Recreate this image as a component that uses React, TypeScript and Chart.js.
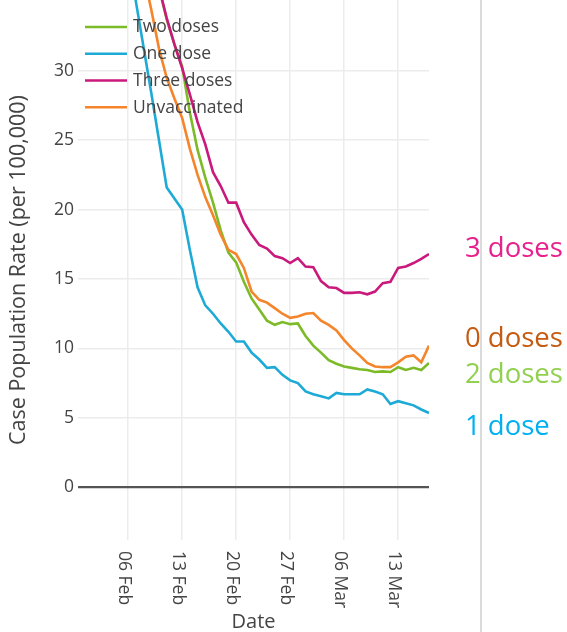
import React, { useEffect, useRef } from "react";
import { Chart, registerables } from "chart.js";

Chart.register(...registerables);

// Days counted from 06 Feb
const dayOffsets = [
  0, 1, 2, 3, 4, 5, 6, 7, 8, 9, 10, 11, 12, 13, 14, 15, 16, 17, 18, 19,
  20, 21, 22, 23, 24, 25, 26, 27, 28, 29, 30, 31, 32, 33, 34, 35, 36, 37, 38, 39,
];
const tickDays = [0, 7, 14, 21, 28, 35];
const tickLabels = ["06 Feb", "13 Feb", "20 Feb", "27 Feb", "06 Mar", "13 Mar"];
const yTickValues = [0, 5, 10, 15, 20, 25, 30];

const seriesNames = ["Two doses", "One dose", "Three doses", "Unvaccinated"];
const seriesColors = ["#7cbb27", "#1eaad6", "#c9197c", "#f5852a"];

const twoDoses = [
  null, null, null, null, 36.0, 33.7, 31.9, 30.3, 27.0, 24.3,
  22.3, 20.5, 18.5, 16.9, 16.2, 14.8, 13.6, 12.8, 12.0, 11.7,
  11.9, 11.75, 11.8, 10.9, 10.2, 9.7, 9.15, 8.9, 8.7, 8.6,
  8.5, 8.45, 8.3, 8.35, 8.3, 8.65, 8.45, 8.6, 8.45, 8.95,
];
const oneDose = [
  38.5, 35.0, 31.7, 28.4, 25.0, 21.6, 20.8, 20.0, 17.1, 14.4,
  13.1, 12.5, 11.8, 11.2, 10.5, 10.5, 9.7, 9.2, 8.6, 8.65,
  8.1, 7.7, 7.5, 6.9, 6.7, 6.55, 6.4, 6.8, 6.7, 6.7,
  6.7, 7.05, 6.9, 6.7, 6.0, 6.2, 6.05, 5.9, 5.6, 5.35,
];
const threeDoses = [
  null, null, null, null, 36.0, 33.8, 31.9, 30.2, 28.3, 26.3,
  24.7, 22.7, 21.7, 20.5, 20.5, 19.1, 18.2, 17.45, 17.2, 16.65,
  16.5, 16.15, 16.5, 15.9, 15.85, 14.85, 14.4, 14.35, 14.0, 14.0,
  14.05, 13.9, 14.1, 14.7, 14.8, 15.8, 15.9, 16.15, 16.45, 16.8,
];
const unvaccinated = [
  null, null, 37.0, 34.4, 31.6, 29.5, 28.0, 26.6, 24.4, 22.5,
  20.9, 19.6, 18.2, 17.1, 16.8, 15.8, 14.1, 13.5, 13.3, 12.9,
  12.5, 12.2, 12.3, 12.5, 12.55, 12.0, 11.7, 11.3, 10.6, 10.0,
  9.5, 8.95, 8.7, 8.65, 8.65, 9.0, 9.4, 9.5, 9.0, 10.2,
];
const seriesValues = [twoDoses, oneDose, threeDoses, unvaccinated];

const sideLabels = ["3 doses", "0 doses", "2 doses", "1 dose"];
const sideColors = ["#e8208e", "#c55a11", "#92d050", "#00b0f0"];

const FONT = '"Open Sans", "DejaVu Sans", sans-serif';
const TEXT = "#444";

const overlayPlugin = {
  id: "overlay",
  afterDraw(chart: any) {
    const ctx = chart.ctx as CanvasRenderingContext2D;
    const xs = chart.scales.x;
    ctx.save();

    // rotated x tick labels (reading top to bottom)
    ctx.fillStyle = TEXT;
    ctx.font = `17.5px ${FONT}`;
    ctx.textAlign = "left";
    ctx.textBaseline = "middle";
    tickDays.forEach((d, i) => {
      const px = xs.getPixelForValue(d);
      ctx.save();
      ctx.translate(px - 4.5, 551);
      ctx.rotate(Math.PI / 2);
      ctx.fillText(tickLabels[i], 0, 0);
      ctx.restore();
    });

    // legend (transparent background, top-left inside plot)
    const rowY = [27, 53.7, 80.5, 107.2];
    seriesNames.forEach((name, i) => {
      ctx.strokeStyle = seriesColors[i];
      ctx.lineWidth = 2.6;
      ctx.beginPath();
      ctx.moveTo(85, rowY[i]);
      ctx.lineTo(127, rowY[i]);
      ctx.stroke();
      ctx.fillStyle = TEXT;
      ctx.font = `17.5px ${FONT}`;
      ctx.textAlign = "left";
      ctx.textBaseline = "middle";
      ctx.fillText(name, 133, rowY[i] + 0.5);
    });

    // right-hand annotations
    const baselines = [257, 347, 383, 435];
    ctx.font = `27.5px ${FONT}`;
    ctx.textBaseline = "alphabetic";
    sideLabels.forEach((t, i) => {
      ctx.fillStyle = sideColors[i];
      ctx.fillText(t, 465, baselines[i]);
    });

    // separator line
    ctx.strokeStyle = "#cfcfcf";
    ctx.lineWidth = 1.5;
    ctx.beginPath();
    ctx.moveTo(481, 0);
    ctx.lineTo(481, 632);
    ctx.stroke();

    ctx.restore();
  },
};

export default function App() {
  const canvasRef = useRef<HTMLCanvasElement | null>(null);

  useEffect(() => {
    const canvas = canvasRef.current;
    if (!canvas) return;
    const datasets = seriesNames.map((name, i) => ({
      label: name,
      data: dayOffsets.map((d, j) => ({ x: d, y: seriesValues[i][j] })),
      borderColor: seriesColors[i],
      backgroundColor: seriesColors[i],
      borderWidth: 2.6,
      pointRadius: 0,
      tension: 0,
      fill: false,
      order: 3 - i,
    }));
    const chart = new Chart(canvas, {
      type: "line",
      data: { datasets },
      plugins: [overlayPlugin],
      options: {
        responsive: false,
        animation: false,
        devicePixelRatio: 1,
        layout: { padding: { left: 0, right: 138, top: 0, bottom: 0 } },
        plugins: { legend: { display: false }, tooltip: { enabled: false } },
        scales: {
          x: {
            type: "linear",
            min: -6.5,
            max: 39,
            afterBuildTicks: (scale: any) => {
              scale.ticks = tickDays.map((v) => ({ value: v }));
            },
            afterFit: (scale: any) => {
              scale.height = 92;
              scale.paddingLeft = 0;
              scale.paddingRight = 0;
            },
            ticks: { display: false },
            grid: { color: "#ececec", lineWidth: 1.5, drawTicks: false },
            border: { display: false },
            title: {
              display: true,
              text: "Date",
              color: TEXT,
              font: { family: FONT, size: 20, lineHeight: 1 },
              padding: 0,
            },
          },
          y: {
            type: "linear",
            min: -3.8,
            max: 35.1,
            afterBuildTicks: (scale: any) => {
              scale.ticks = yTickValues.map((v) => ({ value: v }));
            },
            afterFit: (scale: any) => {
              scale.width = 78;
              scale.paddingTop = 0;
              scale.paddingBottom = 0;
            },
            ticks: {
              color: TEXT,
              font: { family: FONT, size: 17.5 },
              padding: 4,
            },
            grid: {
              color: (c: any) => (c.tick && c.tick.value === 0 ? "#555" : "#ececec"),
              lineWidth: (c: any) => (c.tick && c.tick.value === 0 ? 2.2 : 1.5),
              drawTicks: false,
            },
            border: { display: false },
            title: {
              display: true,
              text: "Case Population Rate (per 100,000)",
              color: TEXT,
              font: { family: FONT, size: 21.5 },
              padding: { top: 6, bottom: 0 },
            },
          },
        },
      },
    } as any);
    return () => chart.destroy();
  }, []);

  return (
    <div style={{ position: "absolute", left: 0, top: 0, width: 567, height: 632, background: "#fff" }}>
      <canvas ref={canvasRef} width={567} height={632} style={{ display: "block" }} />
    </div>
  );
}
